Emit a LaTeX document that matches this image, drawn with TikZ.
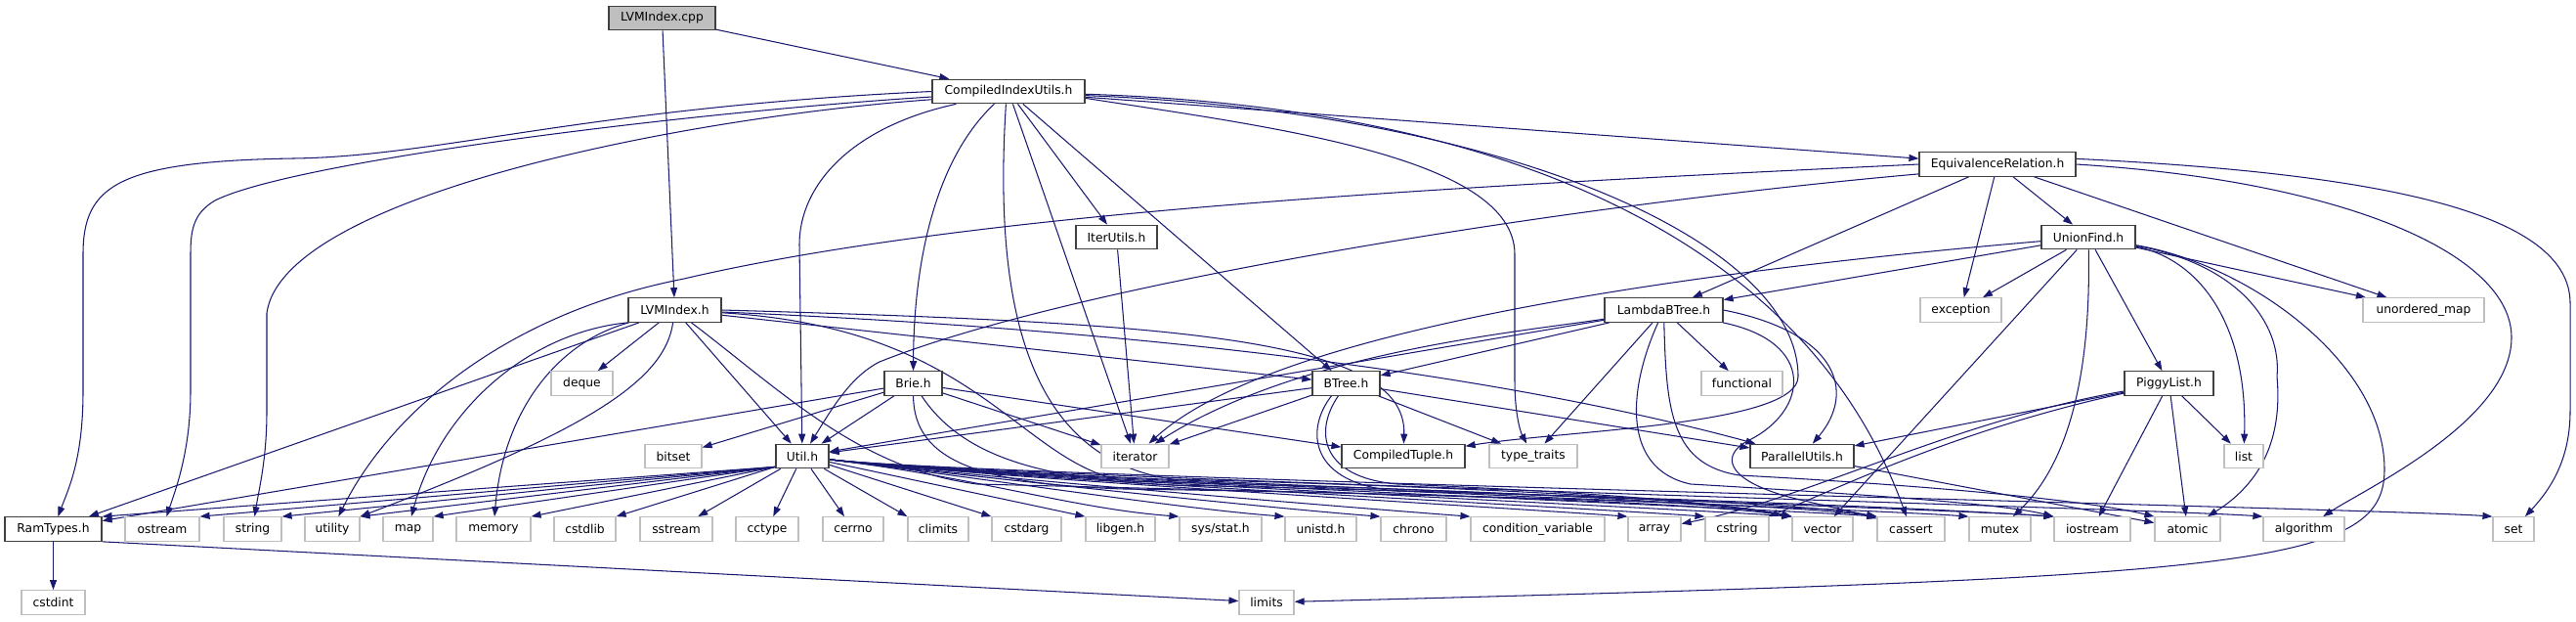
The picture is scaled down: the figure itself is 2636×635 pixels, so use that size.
\documentclass[tikz,border=0pt]{standalone}
\usepackage{fontspec}
\newfontfamily\dvs{DejaVu Sans}
\usetikzlibrary{arrows.meta}
\pgfdeclarelayer{bg}
\pgfsetlayers{bg,main}
\definecolor{edgecol}{HTML}{191970}
\definecolor{hdrcol}{HTML}{404040}
\definecolor{syscol}{HTML}{BFBFBF}
\begin{document}
\begin{tikzpicture}[x=1pt,y=-1pt,
  nbox/.style={rectangle, inner sep=0pt, minimum height=24.5pt, line width=1.2pt, fill=white, text=black,
               font=\dvs\fontsize{12.3}{14}\selectfont},
  hdr/.style={nbox, draw=hdrcol},
  sys/.style={nbox, draw=syscol},
  root/.style={nbox, draw=hdrcol, fill=syscol},
  dep/.style={draw=edgecol, line width=1.05pt, -{Triangle[length=10pt,width=7pt]}}]
\useasboundingbox (0,0) rectangle (2636,635);
% row 0-3
\node[root, minimum width=109pt] (cpp) at (677.5,18.5) {LVMIndex.cpp};
\node[hdr, minimum width=156pt] (ciu) at (1032,93.5) {CompiledIndexUtils.h};
\node[hdr, minimum width=160pt] (eqr) at (2044,168) {EquivalenceRelation.h};
\node[hdr, minimum width=83pt] (itu) at (1142.5,242.5) {IterUtils.h};
\node[hdr, minimum width=96pt] (uf) at (2137,242.5) {UnionFind.h};
% row 4
\node[hdr, minimum width=95pt] (lvh) at (690.5,317) {LVMIndex.h};
\node[hdr, minimum width=121pt] (lbt) at (1702.5,317) {LambdaBTree.h};
\node[sys, minimum width=83pt] (exc) at (2006.5,317) {exception};
\node[sys, minimum width=124pt] (umap) at (2480,317) {unordered\_map};
% row 5
\node[sys, minimum width=63pt] (deque) at (595.5,392) {deque};
\node[hdr, minimum width=59pt] (brie) at (934.5,392) {Brie.h};
\node[hdr, minimum width=69pt] (btree) at (1377.5,392) {BTree.h};
\node[sys, minimum width=83pt] (func) at (1782.5,392) {functional};
\node[hdr, minimum width=91pt] (piggy) at (2219.5,392) {PiggyList.h};
% row 6
\node[sys, minimum width=58pt] (bitset) at (689,466.5) {bitset};
\node[hdr, minimum width=54pt] (util) at (821,466.5) {Util.h};
\node[sys, minimum width=69pt] (iter) at (1161.5,466.5) {iterator};
\node[hdr, minimum width=126pt] (ctup) at (1436,466.5) {CompiledTuple.h};
\node[sys, minimum width=90pt] (tt) at (1569,466.5) {type\_traits};
\node[hdr, minimum width=106pt] (par) at (1844,466.5) {ParallelUtils.h};
\node[sys, minimum width=40pt] (list) at (2296,466.5) {list};
% row 7
\node[hdr, minimum width=99pt] (ram) at (54.5,541) {RamTypes.h};
\node[sys, minimum width=76pt] (ostream) at (166,541) {ostream};
\node[sys, minimum width=59pt] (string) at (258.5,541) {string};
\node[sys, minimum width=56pt] (utility) at (340,541) {utility};
\node[sys, minimum width=51pt] (map) at (417.5,541) {map};
\node[sys, minimum width=76pt] (memory) at (505,541) {memory};
\node[sys, minimum width=63pt] (cstdlib) at (598.5,541) {cstdlib};
\node[sys, minimum width=74pt] (sstream) at (692,541) {sstream};
\node[sys, minimum width=64pt] (cctype) at (785,541) {cctype};
\node[sys, minimum width=62pt] (cerrno) at (873,541) {cerrno};
\node[sys, minimum width=62pt] (climits) at (960,541) {climits};
\node[sys, minimum width=71pt] (cstdarg) at (1050.5,541) {cstdarg};
\node[sys, minimum width=71pt] (libgen) at (1146.5,541) {libgen.h};
\node[sys, minimum width=84pt] (sysstat) at (1249,541) {sys/stat.h};
\node[sys, minimum width=73pt] (unistd) at (1351.5,541) {unistd.h};
\node[sys, minimum width=67pt] (chrono) at (1446.5,541) {chrono};
\node[sys, minimum width=137pt] (condvar) at (1573.5,541) {condition\_variable};
\node[sys, minimum width=54pt] (array) at (1693,541) {array};
\node[sys, minimum width=65pt] (cstring) at (1777.5,541) {cstring};
\node[sys, minimum width=62pt] (vector) at (1865,541) {vector};
\node[sys, minimum width=69pt] (cassert) at (1955.5,541) {cassert};
\node[sys, minimum width=63pt] (mutex) at (2046.5,541) {mutex};
\node[sys, minimum width=78pt] (iostream) at (2141,541) {iostream};
\node[sys, minimum width=67pt] (atomic) at (2238.5,541) {atomic};
\node[sys, minimum width=83pt] (algorithm) at (2357.5,541) {algorithm};
\node[sys, minimum width=42pt] (set) at (2572,541) {set};
% row 8
\node[sys, minimum width=65pt] (cstdint) at (54.5,616) {cstdint};
\node[sys, minimum width=56pt] (limits) at (1296,616) {limits};

\begin{pgfonlayer}{bg}
% LVMIndex.cpp
\draw[dep] (cpp) -- (lvh);
\draw[dep] (cpp) -- (ciu);
% CompiledIndexUtils.h
\draw[dep] (ciu.180) .. controls (600,110) and (450,160) .. (300,162) .. controls (120,165) and (85,190) .. (85,260) -- (85,400) .. controls (85,470) and (70,500) .. (ram);
\draw[dep] (ciu.184) .. controls (700,115) and (300,165) .. (220,205) .. controls (198,218) and (195,235) .. (195,260) -- (195,400) .. controls (195,460) and (180,500) .. (ostream);
\draw[dep] (ciu.186) .. controls (700,120) and (290,200) .. (273,320) -- (273,420) .. controls (273,470) and (265,500) .. (string);
\draw[dep] ([xshift=25pt]ciu.south west) .. controls (870,130) and (818,190) .. (818,250) -- (util);
\draw[dep] ([xshift=64pt]ciu.south west) .. controls (960,160) and (935,260) .. (brie);
\draw[dep] ([xshift=76pt]ciu.south west) .. controls (1015,330) and (1060,470) .. (1200,490) .. controls (1500,498) and (1750,510) .. (vector.north west);
\draw[dep] (ciu) -- (iter);
\draw[dep] (ciu) -- (itu);
\draw[dep] (ciu) -- (btree);
\draw[dep] (ciu) -- (eqr);
\draw[dep] (ciu.355) .. controls (1300,130) and (1550,160) .. (1550,260) -- (1550,390) .. controls (1550,420) and (1555,440) .. (tt);
\draw[dep] (ciu.357) .. controls (1550,115) and (1840,250) .. (1840,385) .. controls (1840,435) and (1600,440) .. (ctup);
\draw[dep] (ciu.358) .. controls (1550,110) and (1850,250) .. (cassert);
% IterUtils.h
\draw[dep] (itu) -- (iter);
% LVMIndex.h
\draw[dep] (lvh) -- (ram);
\draw[dep] (lvh.south west) .. controls (540,340) and (450,420) .. (map);
\draw[dep] (lvh) .. controls (680,390) and (600,440) .. (utility.north east);
\draw[dep] (lvh) .. controls (570,350) and (515,420) .. (memory);
\draw[dep] (lvh) -- (deque);
\draw[dep] (lvh) -- (util);
\draw[dep] (lvh) -- (btree);
\draw[dep] (lvh.east) .. controls (1200,330) and (1440,345) .. (ctup);
\draw[dep] (lvh) .. controls (1000,330) and (1450,360) .. (par);
\draw[dep] (lvh) .. controls (1000,335) and (1040,470) .. (1150,492) .. controls (1500,500) and (1750,512) .. (vector.north west);
\draw[dep] (lvh) .. controls (800,400) and (880,480) .. (1000,495) .. controls (1400,505) and (1800,512) .. (cassert.north west);
% Brie.h
\draw[dep] (brie) -- (bitset);
\draw[dep] (brie) -- (ram);
\draw[dep] (brie) -- (util);
\draw[dep] (brie) -- (iter);
\draw[dep] (brie) -- (ctup);
\draw[dep] (brie) .. controls (935,470) and (1000,495) .. (1150,500) .. controls (1500,505) and (1750,515) .. (vector.north west);
\draw[dep] (brie) .. controls (980,460) and (1050,490) .. (1200,496) .. controls (1600,505) and (1950,518) .. (iostream.north west);
% BTree.h
\draw[dep] (btree) -- (util);
\draw[dep] (btree) -- (iter);
\draw[dep] (btree) -- (tt);
\draw[dep] (btree) -- (par);
\draw[dep] ([xshift=27pt]btree.south west) .. controls (1345,440) and (1350,488) .. (1430,495) .. controls (1600,502) and (1750,512) .. (vector.north west);
\draw[dep] ([xshift=20pt]btree.south west) .. controls (1335,440) and (1340,495) .. (1430,502) .. controls (1650,508) and (1850,515) .. (cassert.north west);
% LambdaBTree.h
\draw[dep] (lbt) -- (btree);
\draw[dep] (lbt) -- (util);
\draw[dep] (lbt) .. controls (1550,340) and (1330,360) .. (iter);
\draw[dep] (lbt) -- (tt);
\draw[dep] (lbt) -- (func);
\draw[dep] (lbt.east) .. controls (1880,340) and (1900,400) .. (par);
\draw[dep] (lbt.348) .. controls (1860,350) and (1850,420) .. (1790,450) .. controls (1760,465) and (1765,490) .. (1830,508) .. controls (1870,518) and (1900,524) .. (cassert);
\draw[dep] (lbt) .. controls (1665,400) and (1660,480) .. (1730,495) .. controls (1900,505) and (2050,515) .. (iostream.north west);
\draw[dep] (lbt) .. controls (1705,420) and (1710,475) .. (1780,486) .. controls (1950,495) and (2130,510) .. (atomic.north west);
% EquivalenceRelation.h
\draw[dep] (eqr.west) .. controls (1500,190) and (1000,215) .. (700,285) .. controls (520,320) and (400,420) .. (utility);
\draw[dep] (eqr.187) .. controls (1600,210) and (1100,290) .. (900,370) .. controls (870,385) and (850,420) .. (util);
\draw[dep] (eqr) -- (lbt);
\draw[dep] (eqr) -- (exc);
\draw[dep] (eqr) -- (uf);
\draw[dep] (eqr) -- (umap);
\draw[dep] (eqr.east) .. controls (2400,185) and (2570,260) .. (2570,345) .. controls (2570,430) and (2420,500) .. (algorithm);
\draw[dep] (eqr.4) .. controls (2450,178) and (2630,220) .. (2630,310) -- (2630,420) .. controls (2630,470) and (2610,500) .. (set);
% UnionFind.h
\draw[dep] (uf) -- (lbt);
\draw[dep] (uf) .. controls (1700,280) and (1300,340) .. (iter);
\draw[dep] (uf) -- (exc);
\draw[dep] (uf) -- (vector);
\draw[dep] (uf) -- (piggy);
\draw[dep] (uf) -- (umap);
\draw[dep] (uf) .. controls (2140,400) and (2110,480) .. (mutex);
\draw[dep] (uf) .. controls (2250,265) and (2300,330) .. (list);
\draw[dep] (uf) .. controls (2290,270) and (2335,330) .. (2330,385) .. controls (2335,440) and (2320,490) .. (atomic);
\draw[dep] (uf) .. controls (2300,270) and (2440,370) .. (2440,480) .. controls (2440,580) and (2300,590) .. (limits);
% PiggyList.h
\draw[dep] (piggy) -- (par);
\draw[dep] (piggy) .. controls (2000,430) and (1850,510) .. (array);
\draw[dep] (piggy) .. controls (2000,440) and (1880,500) .. (cstring);
\draw[dep] (piggy) -- (iostream);
\draw[dep] (piggy) -- (atomic);
\draw[dep] (piggy) -- (list);
% ParallelUtils.h
\draw[dep] (par) -- (atomic);
% RamTypes.h
\draw[dep] (ram) -- (cstdint);
\draw[dep] (ram.south east) -- (limits);
% Util.h
\foreach \t in {ram,ostream,string,utility,map,memory,cstdlib}
  \draw[dep] ([yshift=2pt]util.south west) -- (\t.north east);
\foreach \t in {sstream,cctype,cerrno}
  \draw[dep] (util) -- (\t);
\foreach \t in {climits,cstdarg,libgen}
  \draw[dep] (util) -- (\t.north west);
\foreach \t/\xl in {sysstat/1207,unistd/1315,chrono/1413,condvar/1505,array/1666,cstring/1745,vector/1834,cassert/1921,mutex/2015,iostream/2102,algorithm/2316,set/2551}
  \draw[dep] (util) .. controls (1000,488) and ({\xl-110},520) .. (\t.north west);
\end{pgfonlayer}
\end{tikzpicture}
\end{document}
